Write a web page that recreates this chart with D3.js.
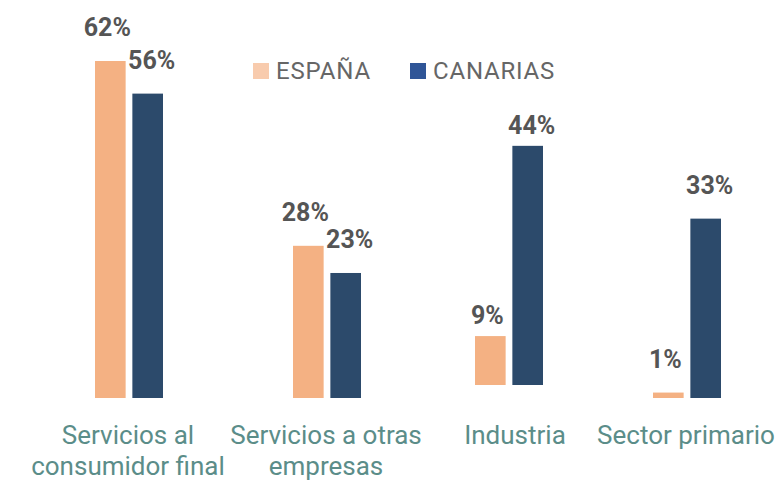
<!DOCTYPE html>
<html>
<head>
<meta charset="utf-8">
<script src="https://cdn.jsdelivr.net/npm/d3@7"></script>
<style>
  html, body { margin: 0; padding: 0; background: #fff; }
  svg { display: block; font-family: Roboto, "Noto Sans", sans-serif; }
</style>
</head>
<body>
<svg id="chart" width="782" height="481"></svg>
<script>
// data
const categories = ["Servicios al consumidor final", "Servicios a otras empresas", "Industria", "Sector primario"];
const categoryLines = [["Servicios al", "consumidor final"], ["Servicios a otras", "empresas"], ["Industria"], ["Sector primario"]];
const series = ["ESPAÑA", "CANARIAS"];
const espana = [62, 28, 9, 1];
const canarias = [56, 23, 44, 33];

const barColors = ["#f4b183", "#2c4a6b"];
const legendColors = ["#f8cbad", "#2f5597"];

const svg = d3.select("#chart");

// group centres as laid out in the original
const x = d3.scaleOrdinal().domain(categories).range([128, 326, 508, 686]);
// the original's Industria group sits a bit higher
const baseline = 398;
const base = d3.scaleOrdinal().domain(categories).range([baseline, baseline, 385, baseline]);
const y = d3.scaleLinear().domain([0, 62]).range([0, 337]);
const sub = d3.scaleBand().domain(series).range([-33, 35]).paddingInner(0.18);
const labelShift = d3.scaleOrdinal().domain(series).range([-3, 4]);

const rows = [];
categories.forEach((c, i) => {
  rows.push({ cat: c, s: series[0], v: espana[i] });
  rows.push({ cat: c, s: series[1], v: canarias[i] });
});

svg.selectAll("rect.bar")
  .data(rows)
  .enter().append("rect")
  .attr("class", "bar")
  .attr("x", d => x(d.cat) + sub(d.s))
  .attr("width", sub.bandwidth())
  .attr("y", d => base(d.cat) - y(d.v))
  .attr("height", d => y(d.v))
  .attr("fill", d => barColors[series.indexOf(d.s)]);

// value labels stay where the unshifted bar would end
svg.selectAll("text.val")
  .data(rows)
  .enter().append("text")
  .attr("class", "val")
  .attr("x", d => x(d.cat) + sub(d.s) + sub.bandwidth() / 2 + labelShift(d.s))
  .attr("y", d => baseline - y(d.v) - 25)
  .attr("text-anchor", "middle")
  .attr("font-size", 25)
  .attr("font-weight", 700)
  .attr("fill", "#555555")
  .text(d => d.v + "%");

// category labels
const lab = svg.selectAll("text.cat")
  .data(categories)
  .enter().append("text")
  .attr("class", "cat")
  .attr("text-anchor", "middle")
  .attr("font-size", 26)
  .attr("fill", "#5b8d89");
lab.each(function (d, i) {
  const t = d3.select(this);
  categoryLines[i].forEach((line, k) => {
    t.append("tspan")
      .attr("x", x(d) + (i == 2 ? 7 : 0))
      .attr("y", 444 + k * 31)
      .text(line);
  });
});

// legend
const leg = svg.append("g").attr("transform", "translate(253,63)");
const lx = [0, 157];
series.forEach((s, i) => {
  const g = leg.append("g").attr("transform", "translate(" + lx[i] + ",0)");
  g.append("rect").attr("width", 16).attr("height", 16).attr("fill", legendColors[i]);
  g.append("text")
    .attr("x", 23)
    .attr("y", 15.5)
    .attr("font-size", 24)
    .attr("letter-spacing", 0.8)
    .attr("fill", "#666666")
    .text(s);
});
</script>
</body>
</html>
